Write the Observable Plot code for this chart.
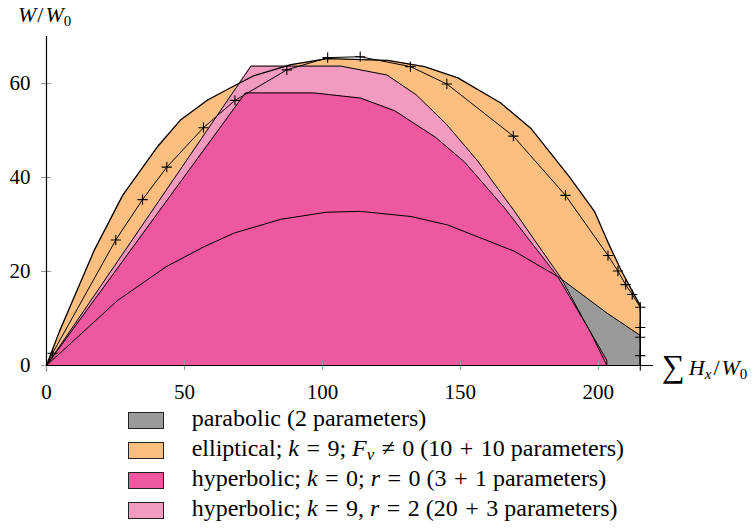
<!DOCTYPE html>
<html><head><meta charset="utf-8">
<script src="https://cdn.jsdelivr.net/npm/d3@7"></script>
<script src="https://cdn.jsdelivr.net/npm/@observablehq/plot@0.6"></script>
<style>
body{margin:0;background:#fff;font-family:"Liberation Serif","Times New Roman",serif;}
#wrap{position:relative;width:756px;height:529px;overflow:hidden;}
#chart{position:absolute;left:0;top:0;}
.sw{position:absolute;left:128px;width:34px;height:15.7px;border:1px solid #222;}
.lab{position:absolute;left:191.7px;white-space:nowrap;font-size:24px;line-height:17.7px;color:#000;}
.lab sub{font-size:17px;vertical-align:-4px;line-height:0;}
.op{margin:0 0.06em;}
</style></head>
<body>
<div id="wrap"><div id="chart"></div><div id="legend"></div></div>
<script>
// ---- data ----
const xTicks = [0, 50, 100, 150, 200];
const yTicks = [0, 20, 40, 60];

const seriesNames = [
  "parabolic (2 parameters)",
  "elliptical; <i>k</i> <span class='op'>=</span> 9; <i>F</i><sub><i>v</i></sub> <span class='op'>≠</span> 0 (10 <span class='op'>+</span> 10 parameters)",
  "hyperbolic; <i>k</i> <span class='op'>=</span> 0; <i>r</i> <span class='op'>=</span> 0 (3 <span class='op'>+</span> 1 parameters)",
  "hyperbolic; <i>k</i> <span class='op'>=</span> 9, <i>r</i> <span class='op'>=</span> 2 (20 <span class='op'>+</span> 3 parameters)"
];
const seriesColors = ["#9a9a9a", "#fdbf80", "#ee589f", "#f39ac1"];

const parabolicX = [0, 25.7, 43.3, 57.2, 68.1, 84.9, 101.3, 113.6, 132.1, 145.4, 169.6, 185.9, 203.5, 215.2];
const parabolicY = [0, 13.8, 21.0, 25.3, 28.2, 31.1, 32.6, 32.8, 31.7, 29.9, 24.3, 18.7, 11.0, 6.4];

const ellipticalX = [0, 4.6, 10.0, 17.3, 27.6, 40.3, 48.7, 58.4, 69.3, 75.3, 88.6, 101.9, 123.7, 137.0, 149.1, 164.5, 175.5, 189.6, 198.6, 203.5, 208.3, 212.5, 215.2];
const ellipticalY = [0, 7.1, 14.5, 24.5, 36.2, 46.6, 52.3, 56.5, 59.9, 61.7, 64.0, 65.3, 64.9, 63.6, 61.2, 55.9, 50.5, 40.1, 32.8, 26.2, 20.2, 15.6, 12.8];

const hyper0X = [0, 72.1, 96.8, 113.8, 126.2, 140.9, 151.5, 165.9, 185.3, 196.2, 203.1, 203.1];
const hyper0Y = [0, 58.0, 58.0, 56.9, 54.2, 48.6, 43.3, 33.6, 18.9, 8.1, 1.1, 0];

const hyper9X = [0, 74.1, 106.7, 123.4, 134.0, 145.0, 156.3, 169.5, 186.5, 197.3, 203.1];
const hyper9Y = [0, 63.7, 63.7, 61.8, 57.6, 51.3, 43.5, 32.9, 18.6, 6.9, 0];

const markedX = [0, 2.2, 25.1, 34.8, 43.6, 56.9, 68.3, 87.1, 101.9, 113.7, 131.9, 145.1, 169.2, 188.1, 203.5, 207.1, 209.9, 212.3, 215.2, 215.2, 215.2, 215.2, 215.2];
const markedY = [0, 2.6, 26.7, 35.3, 42.2, 50.6, 56.4, 62.9, 65.5, 65.7, 63.6, 59.9, 48.8, 36.2, 23.4, 20.1, 17.2, 15.1, 12.4, 8.1, 6.0, 2.1, 0];

// ---- build ----
const rows = (xs, ys) => xs.map((x, i) => ({x, y: ys[i]}));
const parab = rows(parabolicX, parabolicY);
const ellip = rows(ellipticalX, ellipticalY);
const hyp0 = rows(hyper0X, hyper0Y);
const hyp9 = rows(hyper9X, hyper9Y);
const marked = rows(markedX, markedY);
const lastDown = d => d.concat([{x: d[d.length - 1].x, y: 0}]);

const W = 756, H = 395, mL = 46, mR = 103, mT = 36, mB = 30;
const pw = W - mL - mR, ph = H - mT - mB;
const line = {x: "x", y: "y", stroke: "black", strokeWidth: 1};

const plot = Plot.plot({
  width: W, height: H, marginLeft: mL, marginRight: mR, marginTop: mT, marginBottom: mB,
  x: {domain: [0, 220], label: null},
  y: {domain: [0, 70], label: null},
  style: {fontFamily: "Liberation Serif", fontSize: "21px", background: "white", overflow: "visible", color: "black"},
  marks: [
    Plot.areaY(ellip, {x: "x", y: "y", fill: seriesColors[1]}),
    Plot.areaY(parab, {x: "x", y: "y", fill: seriesColors[0]}),
    Plot.areaY(hyp9, {x: "x", y: "y", fill: seriesColors[3]}),
    Plot.areaY(hyp0, {x: "x", y: "y", fill: seriesColors[2]}),
    Plot.line(lastDown(ellip), {...line, strokeWidth: 1.3}),
    Plot.line(lastDown(parab), line),
    Plot.line(hyp9, line),
    Plot.line(hyp0, line),
    Plot.line(marked, line),
    Plot.dot(marked, {x: "x", y: "y", symbol: "plus", r: 3.4, stroke: "black", strokeWidth: 1.1}),
    Plot.tickY(yTicks, {y: d => d, stroke: "#999", insetLeft: -5, insetRight: pw - 5}),
    Plot.tickX(xTicks, {x: d => d, stroke: "#999", insetTop: ph - 5, insetBottom: -5}),
    Plot.ruleY([0], {stroke: "black", strokeWidth: 1.2}),
    Plot.ruleX([0], {stroke: "black", strokeWidth: 1.2}),
    Plot.axisX(xTicks, {tickSize: 0, tickPadding: 19, fontSize: 21, label: null}),
    Plot.axisY(yTicks, {tickSize: 0, tickPadding: 16, fontSize: 21, label: null})
  ]
});
document.getElementById("chart").appendChild(plot);

// axis labels with subscripts
const svg = d3.select(plot);
const yl = svg.append("text").attr("x", 18).attr("y", 22).attr("font-size", 22)
  .attr("text-anchor", "start").attr("font-family", "Liberation Serif").attr("fill", "black");
yl.append("tspan").attr("font-style", "italic").text("W");
yl.append("tspan").attr("dx", 1).text("/");
yl.append("tspan").attr("dx", 2).attr("font-style", "italic").text("W");
yl.append("tspan").attr("font-size", 15).attr("dy", 4).text("0");

const xl = svg.append("text").attr("x", 662).attr("y", 375).attr("font-size", 22)
  .attr("text-anchor", "start").attr("font-family", "Liberation Serif").attr("fill", "black");
xl.append("tspan").attr("font-size", 32).attr("dy", 2).text("∑");
xl.append("tspan").attr("dx", 4).attr("dy", -2).attr("font-style", "italic").text("H");
xl.append("tspan").attr("font-size", 15).attr("dy", 4).attr("font-style", "italic").text("x");
xl.append("tspan").attr("dx", 2).attr("dy", -4).text("/");
xl.append("tspan").attr("dx", 2).attr("font-style", "italic").text("W");
xl.append("tspan").attr("font-size", 15).attr("dy", 4).text("0");

// legend
const legend = document.getElementById("legend");
seriesNames.forEach((name, i) => {
  const top = 411.7 + 30 * i;
  const sw = document.createElement("div");
  sw.className = "sw";
  sw.style.top = top + "px";
  sw.style.background = seriesColors[i];
  legend.appendChild(sw);
  const lab = document.createElement("div");
  lab.className = "lab";
  lab.style.top = (top - 1.9) + "px";
  lab.innerHTML = name;
  legend.appendChild(lab);
});
</script>
</body></html>
